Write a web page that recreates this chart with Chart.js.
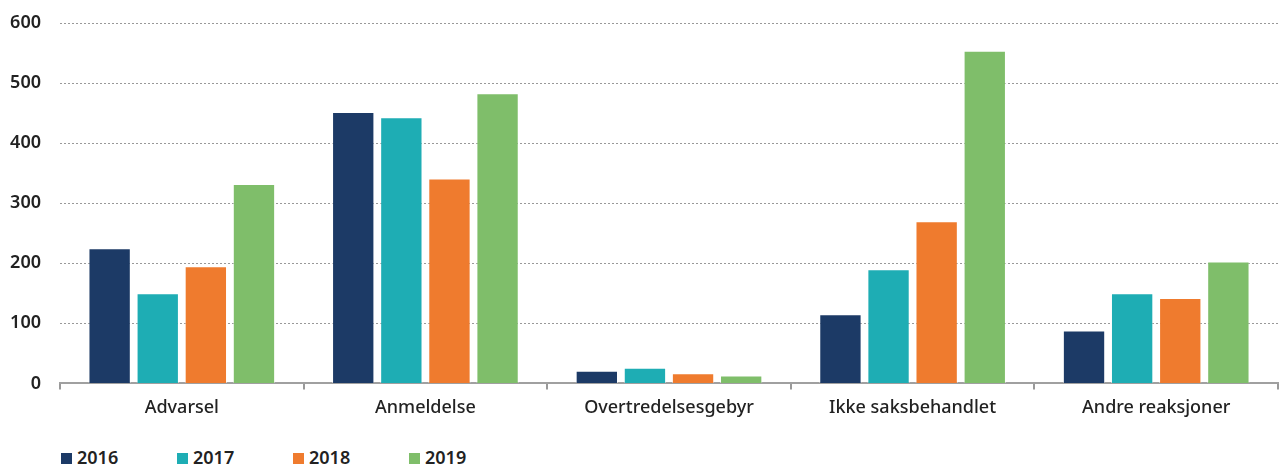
<!DOCTYPE html>
<html><head><meta charset="utf-8">
<script src="https://cdn.jsdelivr.net/npm/chart.js@4"></script>
<style>
html,body{margin:0;padding:0;background:#fff;overflow:hidden;}
#wrap{position:relative;width:1280px;height:427px;}
#legend{display:flex;margin:20px 0 0 0;padding-left:61px;font-family:"Noto Sans",sans-serif;font-weight:600;font-size:18px;color:#222;height:20px;align-items:center;}
.li{display:flex;align-items:center;width:116px;}
.sw{width:11px;height:11px;margin-right:5px;margin-top:2px;}
</style></head>
<body>
<div id="wrap"><canvas id="c" width="1280" height="427"></canvas></div>
<div id="legend"></div>
<script>
const categories = ["Advarsel","Anmeldelse","Overtredelsesgebyr","Ikke saksbehandlet","Andre reaksjoner"];
const seriesNames = ["2016","2017","2018","2019"];
const v2016 = [225, 452, 21, 115, 88];
const v2017 = [150, 443, 26, 190, 150];
const v2018 = [195, 341, 17, 270, 142];
const v2019 = [332, 483, 13, 554, 203];
const yTicks = [0,100,200,300,400,500,600];
const colors = ["#1c3a66","#1eadb4","#ef7b2e","#7fbe6a"];
const values = [v2016, v2017, v2018, v2019];

const font = "'Noto Sans', sans-serif";
new Chart(document.getElementById('c'), {
  type: 'bar',
  data: {
    labels: categories,
    datasets: seriesNames.map((n,i)=>({label:n,data:values[i],backgroundColor:colors[i],borderColor:'rgba(255,255,255,0.5)',borderWidth:1,categoryPercentage:0.79,barPercentage:0.88}))
  },
  options: {
    responsive:false, animation:false,
    layout:{padding:{top:23,right:2,left:0,bottom:0}},
    plugins:{legend:{display:false},tooltip:{enabled:false}},
    scales:{
      x:{
        grid:{display:true,drawOnChartArea:false,drawTicks:true,tickLength:6,offset:true,color:'#999',lineWidth:2},
        border:{display:true,color:'#a0a0a0',width:2},
        ticks:{color:'#222',font:{family:font,size:18,weight:500},padding:8}
      },
      y:{
        min:0,max:600,
        afterBuildTicks:(s)=>{s.ticks=yTicks.map(v=>({value:v}));},
        afterFit:(s)=>{s.width=60;s.paddingTop=10;s.paddingBottom=10;},
        grid:{drawTicks:false,color:'#999',lineWidth:1},
        border:{display:false,dash:[2,2]},
        ticks:{color:'#222',font:{family:font,size:18,weight:600},padding:19}
      }
    }
  }
});
const lg=document.getElementById('legend');
seriesNames.forEach((n,i)=>{const d=document.createElement('div');d.className='li';d.innerHTML='<span class="sw" style="background:'+colors[i]+'"></span>'+n;lg.appendChild(d);});
</script>
</body></html>
